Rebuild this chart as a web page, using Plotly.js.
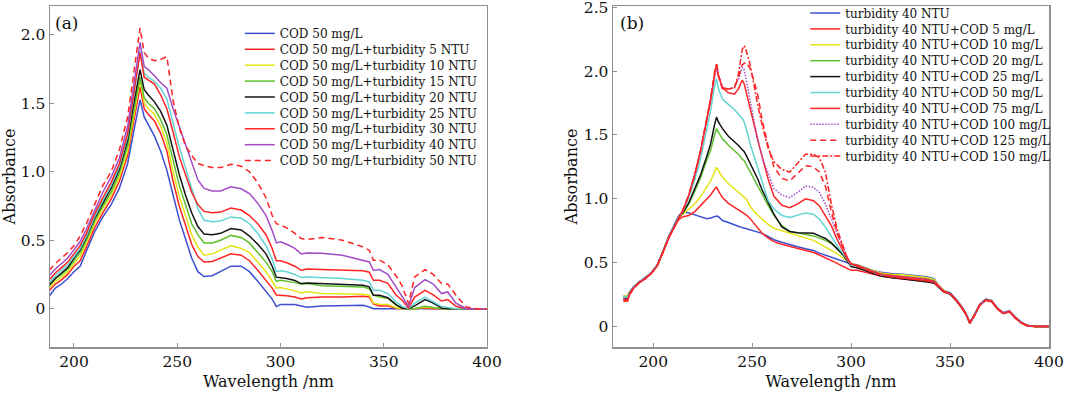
<!DOCTYPE html>
<html>
<head>
<meta charset="utf-8">
<script src="https://cdn.plot.ly/plotly-3.0.1.min.js"></script>
<style>
  html, body { margin: 0; padding: 0; background: #fff; }
  #chart { width: 1080px; height: 395px; }
</style>
</head>
<body>
<div id="chart"></div>
<script>
// ---------------- Panel (a) data ----------------
const wavelengthA = [188,191,194,197,200,203,206,210,214,218,222,226,229,231,232,234,236,239,242,245,248,251,254,257,260,263,267,271,276,281,285,289,293,296,298,300,303,307,310,313,320,330,340,343,345,348,352,356,359,362,365,370,374,378,381,385,390,395,400];

const namesA = ['COD 50 mg/L','COD 50 mg/L+turbidity 5 NTU','COD 50 mg/L+turbidity 10 NTU','COD 50 mg/L+turbidity 15 NTU','COD 50 mg/L+turbidity 20 NTU','COD 50 mg/L+turbidity 25 NTU','COD 50 mg/L+turbidity 30 NTU','COD 50 mg/L+turbidity 40 NTU','COD 50 mg/L+turbidity 50 NTU'];

const a_cod50 = [0.09,0.15,0.18,0.22,0.27, 0.31,0.42,0.56,0.67,0.76, 0.88,1.06,1.30,1.46,1.525, 1.40,1.34,1.26,1.15,1.01, 0.83,0.65,0.51,0.37,0.27, 0.235,0.24,0.27,0.31,0.31, 0.27,0.20,0.13,0.07,0.015, 0.03,0.03,0.03,0.02,0.01, 0.02,0.022,0.025,0.012,0, 0,0,0,0,0, 0,0,0,0,0, 0,0,0,0];
const a_t5 = [0.13,0.18,0.21,0.25,0.31, 0.35,0.45,0.59,0.70,0.80, 0.93,1.12,1.37,1.55,1.62, 1.46,1.42,1.37,1.28,1.15, 0.93,0.75,0.61,0.47,0.38, 0.34,0.345,0.37,0.40,0.39, 0.35,0.28,0.21,0.15,0.10, 0.10,0.095,0.085,0.07,0.08, 0.085,0.085,0.09,0.085,0.035, 0.02,0.02,0.003,0,0, 0,0.005,0,0,0, 0,0,0,0];
const a_t10 = [0.15,0.20,0.23,0.27,0.33, 0.38,0.48,0.62,0.73,0.83, 0.96,1.15,1.41,1.60,1.67, 1.50,1.46,1.42,1.33,1.21, 1.00,0.82,0.68,0.54,0.45, 0.39,0.40,0.425,0.46,0.44, 0.41,0.34,0.27,0.20,0.15, 0.155,0.145,0.13,0.115,0.124, 0.11,0.11,0.105,0.098,0.04, 0.032,0.03,0.007,0,0, 0,0.01,0.005,0,0, 0,0,0,0];
const a_t15 = [0.17,0.22,0.25,0.29,0.35, 0.41,0.50,0.64,0.75,0.85, 0.99,1.19,1.45,1.63,1.69, 1.54,1.50,1.46,1.38,1.27, 1.08,0.90,0.76,0.62,0.54, 0.48,0.48,0.50,0.535,0.52, 0.48,0.41,0.34,0.27,0.20, 0.207,0.20,0.19,0.178,0.183, 0.168,0.163,0.159,0.146,0.098, 0.085,0.075,0.025,0.002,0, 0,0.017,0.008,0,0, 0,0,0,0];
const a_t20 = [0.17,0.22,0.26,0.30,0.37, 0.43,0.52,0.66,0.77,0.88, 1.02,1.23,1.50,1.68,1.745, 1.60,1.56,1.51,1.44,1.34, 1.16,0.98,0.83,0.70,0.60, 0.545,0.54,0.55,0.585,0.575, 0.53,0.47,0.40,0.31,0.23, 0.227,0.22,0.205,0.183,0.188, 0.183,0.178,0.17,0.159,0.098, 0.098,0.08,0.03,0.003,0, 0.02,0.066,0.04,0.005,0, 0,0,0,0];
const a_t25 = [0.19,0.24,0.28,0.32,0.38, 0.44,0.53,0.67,0.79,0.90, 1.04,1.26,1.56,1.78,1.88, 1.72,1.69,1.66,1.61,1.53, 1.35,1.18,1.03,0.88,0.73, 0.645,0.635,0.64,0.67,0.66, 0.62,0.55,0.46,0.36,0.27, 0.276,0.27,0.25,0.227,0.232, 0.227,0.22,0.207,0.195,0.134, 0.134,0.11,0.05,0.017,0, 0.04,0.085,0.05,0.015,0.008, 0,0,0,0];
const a_t30 = [0.21,0.26,0.30,0.34,0.40, 0.46,0.55,0.69,0.81,0.92, 1.06,1.28,1.58,1.79,1.867, 1.69,1.67,1.64,1.56,1.46, 1.29,1.11,0.98,0.85,0.76, 0.71,0.70,0.705,0.735,0.72, 0.68,0.62,0.54,0.44,0.35, 0.349,0.335,0.31,0.28,0.29, 0.285,0.28,0.276,0.266,0.207, 0.207,0.185,0.10,0.06,0.005, 0.085,0.134,0.10,0.056,0.066, 0.017,0,0,0];
const a_t40 = [0.24,0.29,0.33,0.37,0.43, 0.49,0.58,0.72,0.85,0.96, 1.10,1.33,1.64,1.86,1.945, 1.77,1.745,1.70,1.65,1.61, 1.46,1.33,1.20,1.08,0.94, 0.878,0.86,0.86,0.89,0.875, 0.84,0.77,0.68,0.57,0.48, 0.488,0.47,0.44,0.40,0.407, 0.405,0.39,0.354,0.341,0.28, 0.285,0.25,0.16,0.09,0.017, 0.154,0.212,0.18,0.11,0.122, 0.04,0,0,0];
const a_t50 = [0.28,0.33,0.37,0.41,0.46, 0.53,0.62,0.76,0.90,1.00, 1.16,1.40,1.72,1.95,2.05, 1.87,1.83,1.81,1.82,1.84, 1.52,1.32,1.19,1.12,1.06, 1.045,1.03,1.03,1.055,1.04, 1.00,0.92,0.81,0.68,0.62, 0.61,0.59,0.55,0.512,0.505, 0.52,0.50,0.451,0.427,0.354, 0.354,0.32,0.24,0.165,0.037, 0.232,0.285,0.25,0.183,0.18, 0.098,0.012,0,0];

// ---------------- Panel (b) data ----------------
const wavelengthB = [185,187,188,190,193,196,199,202,205,208,211,213,215,218,221,224,227,229,231,232,233,235,238,241,243,245,246,247,249,251,253,255,258,261,265,269,273,277,281,284,287,290,293,296,298,300,303,307,311,315,320,326,332,338,342,344,347,350,353,356,358,360,362,365,368,371,374,377,380,383,386,389,393,400];

const namesB = ['turbidity 40 NTU','turbidity 40 NTU+COD 5 mg/L','turbidity 40 NTU+COD 10 mg/L','turbidity 40 NTU+COD 20 mg/L','turbidity 40 NTU+COD 25 mg/L','turbidity 40 NTU+COD 50 mg/L','turbidity 40 NTU+COD 75 mg/L','turbidity 40 NTU+COD 100 mg/L','turbidity 40 NTU+COD 125 mg/L','turbidity 40 NTU+COD 150 mg/L'];

const b_t40 = [0.24,0.24,0.27,0.31,0.35,0.385,0.42,0.48,0.59,0.71,0.81,0.87,
  0.90,0.89,0.875,0.86,0.845,0.85,0.86,0.866,0.86,0.83,0.815,0.795,0.785,0.775,0.77,0.765,0.755,0.745,0.74,0.73,0.705,0.68,0.66,0.64,0.625,0.61,0.595,0.575,0.56,0.545,0.53,0.515,0.50,
  0.49,0.485,0.46,0.44,0.425,0.415,0.41,0.40,0.39,0.375,0.325,0.28,0.265,0.215,0.155,0.105,0.035,0.085,0.175,0.215,0.205,0.145,0.11,0.125,0.075,0.035,0.01,0,0];
const b_c5 = [0.21,0.21,0.25,0.30,0.345,0.375,0.415,0.475,0.585,0.70,0.79,0.84,
  0.86,0.87,0.90,0.95,1.00,1.03,1.075,1.09,1.06,1.01,0.965,0.935,0.915,0.895,0.885,0.875,0.845,0.805,0.765,0.73,0.695,0.665,0.645,0.63,0.615,0.60,0.58,0.56,0.54,0.52,0.495,0.47,0.455,
  0.44,0.44,0.425,0.41,0.395,0.385,0.375,0.365,0.355,0.345,0.31,0.27,0.255,0.205,0.145,0.095,0.025,0.075,0.165,0.205,0.195,0.135,0.10,0.115,0.065,0.028,0.006,0,0];
const b_c10 = [0.24,0.24,0.27,0.31,0.35,0.38,0.42,0.48,0.59,0.71,0.80,0.86,
  0.88,0.92,0.96,1.02,1.09,1.14,1.21,1.247,1.22,1.17,1.12,1.08,1.06,1.03,1.02,1.00,0.94,0.90,0.87,0.84,0.80,0.77,0.75,0.73,0.715,0.695,0.675,0.65,0.625,0.60,0.57,0.535,0.51,
  0.49,0.485,0.46,0.44,0.42,0.41,0.405,0.395,0.385,0.37,0.325,0.28,0.26,0.21,0.15,0.10,0.03,0.08,0.17,0.21,0.20,0.14,0.105,0.12,0.07,0.03,0.008,0,0];
const b_c20 = [0.23,0.23,0.26,0.31,0.35,0.38,0.42,0.48,0.59,0.71,0.80,0.86,
  0.89,0.96,1.06,1.17,1.30,1.38,1.50,1.55,1.52,1.47,1.42,1.38,1.35,1.31,1.30,1.27,1.21,1.16,1.09,1.03,0.95,0.87,0.79,0.745,0.73,0.72,0.71,0.695,0.675,0.65,0.61,0.56,0.52,
  0.48,0.48,0.455,0.43,0.41,0.40,0.395,0.385,0.375,0.36,0.32,0.275,0.26,0.21,0.15,0.10,0.03,0.08,0.17,0.21,0.20,0.14,0.105,0.12,0.07,0.03,0.008,0,0];
const b_c25 = [0.22,0.22,0.26,0.31,0.35,0.38,0.42,0.48,0.59,0.71,0.80,0.86,
  0.89,0.97,1.08,1.19,1.33,1.43,1.58,1.64,1.60,1.55,1.49,1.45,1.42,1.385,1.37,1.34,1.28,1.22,1.15,1.07,0.97,0.88,0.78,0.745,0.735,0.735,0.73,0.71,0.69,0.655,0.61,0.56,0.515,
  0.47,0.46,0.44,0.415,0.395,0.385,0.375,0.36,0.35,0.34,0.315,0.27,0.255,0.205,0.145,0.095,0.028,0.078,0.168,0.208,0.198,0.138,0.103,0.118,0.068,0.03,0.008,0,0];
const b_c50 = [0.23,0.23,0.26,0.31,0.35,0.38,0.42,0.48,0.59,0.71,0.80,0.86,
  0.90,1.01,1.15,1.32,1.54,1.69,1.88,1.94,1.86,1.78,1.74,1.70,1.665,1.63,1.60,1.55,1.43,1.33,1.22,1.12,0.99,0.92,0.87,0.855,0.87,0.89,0.88,0.84,0.78,0.70,0.63,0.57,0.52,
  0.48,0.475,0.45,0.425,0.405,0.395,0.39,0.38,0.37,0.355,0.32,0.275,0.26,0.21,0.15,0.10,0.03,0.08,0.17,0.21,0.20,0.14,0.105,0.12,0.07,0.03,0.008,0,0];
const b_c75 = [0.20,0.20,0.25,0.30,0.345,0.375,0.415,0.475,0.585,0.70,0.79,0.85,
  0.91,1.03,1.19,1.38,1.62,1.77,1.97,2.05,1.96,1.87,1.83,1.82,1.86,1.93,1.90,1.84,1.72,1.58,1.45,1.33,1.16,1.02,0.95,0.93,0.96,1.00,0.985,0.945,0.87,0.79,0.68,0.59,0.53,
  0.49,0.48,0.455,0.43,0.41,0.40,0.39,0.38,0.37,0.355,0.32,0.275,0.26,0.21,0.15,0.10,0.03,0.08,0.17,0.21,0.20,0.14,0.105,0.12,0.07,0.03,0.008,0,0];
const b_c100 = [0.22,0.22,0.26,0.31,0.35,0.38,0.42,0.48,0.59,0.71,0.80,0.86,
  0.91,1.03,1.19,1.38,1.62,1.77,1.96,2.03,1.96,1.87,1.86,1.87,1.93,2.03,2.01,1.93,1.76,1.58,1.45,1.33,1.20,1.08,1.03,1.01,1.05,1.10,1.09,1.05,0.96,0.84,0.72,0.61,0.54,
  0.49,0.48,0.455,0.43,0.41,0.395,0.385,0.375,0.365,0.35,0.32,0.275,0.26,0.21,0.15,0.10,0.03,0.08,0.17,0.21,0.20,0.14,0.105,0.12,0.07,0.03,0.008,0,0];
const b_c125 = [0.21,0.21,0.25,0.30,0.345,0.375,0.415,0.475,0.585,0.70,0.79,0.85,
  0.91,1.03,1.19,1.38,1.62,1.78,1.98,2.05,1.96,1.86,1.86,1.87,1.95,2.05,2.06,2.07,2.02,1.92,1.80,1.62,1.42,1.25,1.16,1.14,1.20,1.26,1.25,1.21,1.10,0.90,0.73,0.62,0.54,
  0.49,0.475,0.45,0.425,0.405,0.39,0.38,0.37,0.36,0.345,0.315,0.272,0.257,0.207,0.147,0.097,0.028,0.078,0.168,0.208,0.198,0.138,0.103,0.118,0.068,0.028,0.007,0,0];
const b_c150 = [0.20,0.20,0.25,0.30,0.345,0.375,0.415,0.475,0.585,0.70,0.79,0.85,
  0.91,1.03,1.19,1.38,1.62,1.78,1.99,2.06,1.97,1.87,1.86,1.87,1.97,2.17,2.20,2.16,2.05,1.88,1.72,1.58,1.40,1.29,1.23,1.21,1.28,1.35,1.35,1.32,1.21,0.96,0.76,0.62,0.54,
  0.49,0.475,0.45,0.425,0.405,0.39,0.38,0.37,0.36,0.345,0.315,0.272,0.257,0.207,0.147,0.097,0.028,0.078,0.168,0.208,0.198,0.138,0.103,0.118,0.068,0.028,0.007,0,0];

// ---------------- ticks ----------------
const xTickVals = [200, 250, 300, 350, 400];
const xTickText = ['200', '250', '300', '350', '400'];
const yTickValsA = [0, 0.5, 1.0, 1.5, 2.0];
const yTickTextA = ['0', '0.5', '1.0', '1.5', '2.0'];
const yTickValsB = [0, 0.5, 1.0, 1.5, 2.0, 2.5];
const yTickTextB = ['0', '0.5', '1.0', '1.5', '2.0', '2.5'];

// ---------------- styles ----------------
const BLUE = '#3d4fd0', RED = '#ff2424', YEL = '#e4e414', GRN = '#5cc02c', BLK = '#141414', CYA = '#62d4d4', PUR = '#a24cc6';
const seriesA = [a_cod50, a_t5, a_t10, a_t15, a_t20, a_t25, a_t30, a_t40, a_t50];
const colorsA = [BLUE, RED, YEL, GRN, BLK, CYA, RED, PUR, RED];
const dashA = ['solid','solid','solid','solid','solid','solid','solid','solid','6px,4px'];
const seriesB = [b_t40, b_c5, b_c10, b_c20, b_c25, b_c50, b_c75, b_c100, b_c125, b_c150];
const colorsB = [BLUE, RED, YEL, GRN, BLK, CYA, RED, PUR, RED, RED];
const dashB = ['solid','solid','solid','solid','solid','solid','solid','1.5px,1.5px','6px,4px','6px,2px,2px,2px'];

const traces = [];
seriesA.forEach((ys, i) => traces.push({
  type: 'scatter', mode: 'lines', x: wavelengthA, y: ys, name: namesA[i],
  xaxis: 'x', yaxis: 'y', legend: 'legend',
  line: {color: colorsA[i], width: 1.5, dash: dashA[i]}
}));
seriesB.forEach((ys, i) => traces.push({
  type: 'scatter', mode: 'lines', x: wavelengthB, y: ys, name: namesB[i],
  xaxis: 'x2', yaxis: 'y2', legend: 'legend2',
  line: {color: colorsB[i], width: 1.5, dash: dashB[i]}
}));

const FONT = 'DejaVu Serif, Liberation Serif, serif';
const axisBase = {
  showline: true, mirror: true, linecolor: '#8f8f8f', linewidth: 1.5,
  showgrid: false, zeroline: false,
  ticks: 'inside', ticklen: 4, tickwidth: 1, tickcolor: '#8f8f8f',
  ticklabeloverflow: 'allow',
  tickfont: {family: FONT, size: 15.5, color: '#111'}
};

const legendBase = {
  xanchor: 'left', yanchor: 'top', bgcolor: 'rgba(0,0,0,0)', borderwidth: 0,
  font: {family: FONT, size: 12, color: '#111'}, itemwidth: 30, tracegroupgap: 0
};

const layout = {
  width: 1080, height: 395,
  margin: {l: 50, r: 31, t: 6, b: 48},
  paper_bgcolor: '#ffffff', plot_bgcolor: '#ffffff',
  font: {family: FONT, size: 15, color: '#111'},
  showlegend: true,
  xaxis: Object.assign({}, axisBase, {domain: [0, 0.4374], range: [188.4, 400], anchor: 'y',
    tickvals: xTickVals, ticktext: xTickText,
    title: {text: 'Wavelength /nm', font: {family: FONT, size: 16, color: '#111'}, standoff: 5}}),
  yaxis: Object.assign({}, axisBase, {domain: [0, 1], range: [-0.28, 2.21], anchor: 'x',
    tickvals: yTickValsA, ticktext: yTickTextA,
    title: {text: 'Absorbance', font: {family: FONT, size: 16, color: '#111'}, standoff: 2}}),
  xaxis2: Object.assign({}, axisBase, {domain: [0.5636, 1], range: [179.7, 400], anchor: 'y2',
    tickvals: xTickVals, ticktext: xTickText,
    title: {text: 'Wavelength /nm', font: {family: FONT, size: 16, color: '#111'}, standoff: 5}}),
  yaxis2: Object.assign({}, axisBase, {domain: [0, 1], range: [-0.16, 2.51], anchor: 'x2',
    tickvals: yTickValsB, ticktext: yTickTextB,
    title: {text: 'Absorbance', font: {family: FONT, size: 16, color: '#111'}, standoff: 2}}),
  legend: Object.assign({}, legendBase, {x: 0.19, y: 0.971}),
  legend2: Object.assign({}, legendBase, {x: 0.756, y: 1.0}),
  annotations: [
    {text: '(a)', xref: 'x domain', yref: 'y domain', x: 0.008, y: 0.985, xanchor: 'left', yanchor: 'top',
     showarrow: false, font: {family: FONT, size: 17, color: '#111'}},
    {text: '(b)', xref: 'x2 domain', yref: 'y2 domain', x: 0.012, y: 0.985, xanchor: 'left', yanchor: 'top',
     showarrow: false, font: {family: FONT, size: 17, color: '#111'}}
  ]
};

// Tighten the legend row spacing to that of the reference (rows ~16px apart),
// optionally nudging the whole list by dy pixels.
function tightenLegend(gd, id, step, dy) {
  const g = gd.querySelector('g.' + id);
  if (!g) return;
  const sb = g.querySelector('.scrollbox');
  if (sb) sb.removeAttribute('clip-path');
  const items = g.querySelectorAll('g.traces');
  let y0 = null;
  items.forEach((it, i) => {
    const m = /translate\(\s*([-\d.eE]+)[\s,]+([-\d.eE]+)\s*\)/.exec(it.getAttribute('transform') || '');
    if (!m) return;
    if (y0 === null) y0 = parseFloat(m[2]);
    it.setAttribute('transform', 'translate(' + m[1] + ',' + (y0 + dy + i * step) + ')');
  });
}

const gd = document.getElementById('chart');
Plotly.newPlot(gd, traces, layout, {staticPlot: true, displayModeBar: false}).then(() => {
  tightenLegend(gd, 'legend', 15.9, 3);
  tightenLegend(gd, 'legend2', 15.9, -7.5);
});
</script>
</body>
</html>
